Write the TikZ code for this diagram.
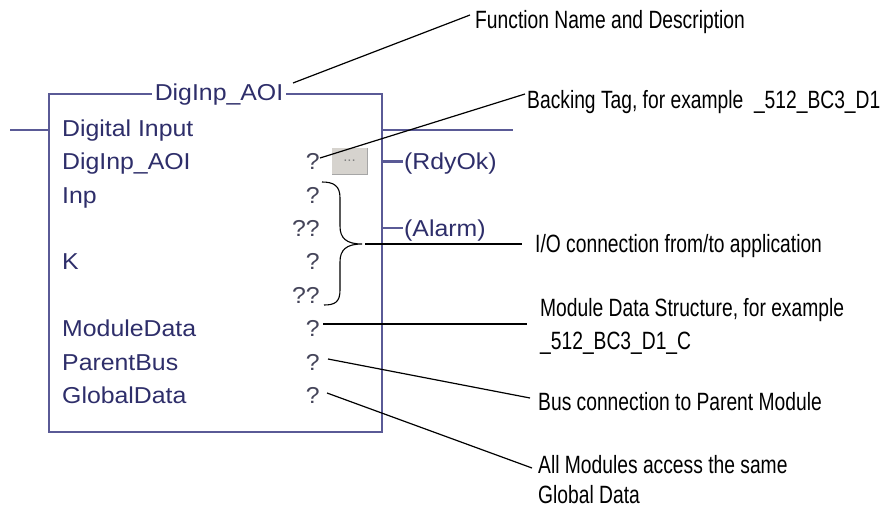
\documentclass[tikz,border=0pt]{standalone}
\usepackage{fontspec}
\setmainfont{Liberation Sans}
\newfontfamily\annfont{Liberation Sans}[FakeStretch=0.77]
\newfontfamily\boxfont{Liberation Sans}[FakeStretch=1.08]
\definecolor{boxline}{HTML}{5A5A96}
\definecolor{boxtext}{HTML}{2E2E6A}
\definecolor{qmark}{HTML}{45455A}
\definecolor{btnfill}{HTML}{D6D3CE}
\begin{document}
\begin{tikzpicture}[x=1pt,y=-1pt,
  ann/.style={font=\annfont\fontsize{25}{29}\selectfont, anchor=base west, inner sep=0pt, text=black},
  boxtxt/.style={font=\boxfont\fontsize{23}{27}\selectfont, anchor=base west, inner sep=0pt, text=boxtext},
  qm/.style={font=\boxfont\fontsize{23}{27}\selectfont, anchor=base east, inner sep=0pt, text=qmark},
  wire/.style={draw=boxline, line width=2.2pt},
  leader/.style={draw=black, line width=1.2pt},
  hleader/.style={draw=black, line width=2pt}
]
\useasboundingbox (0,0) rectangle (893,508);
\fill[white] (0,0) rectangle (893,508);

% function block
\draw[wire] (49,94) rectangle (382,432);
\node[font=\boxfont\fontsize{23}{27}\selectfont, text=boxtext, fill=white, inner xsep=3pt, inner ysep=2pt] (title) at (219,95) {DigInp\_AOI};
\coordinate (ltw) at (10,130);
\coordinate (boxl) at (49,130);
\coordinate (boxr) at (382,130);
\coordinate (rtw) at (513,130);
\draw[wire] (ltw) -- (boxl);
\draw[wire] (boxr) -- (rtw);

% rows
\node[boxtxt] (r0) at (62,136.3) {Digital Input};
\node[boxtxt] (r1) at (62,169.7) {DigInp\_AOI};
\node[boxtxt] (r2) at (62,203.1) {Inp};
\node[boxtxt] (r4) at (62,269.9) {K};
\node[boxtxt] (r6) at (62,336.7) {ModuleData};
\node[boxtxt] (r7) at (62,370.1) {ParentBus};
\node[boxtxt] (r8) at (62,403.5) {GlobalData};

\node[qm] (q1) at (320,169.7) {?};
\node[qm] (q2) at (320,203.1) {?};
\node[qm] (q3) at (320,236.5) {??};
\node[qm] (q4) at (320,269.9) {?};
\node[qm] (q5) at (320,303.3) {??};
\node[qm] (q6) at (320,336.7) {?};
\node[qm] (q7) at (320,370.1) {?};
\node[qm] (q8) at (320,403.5) {?};

% button
\node[draw=none, fill=btnfill, minimum width=35pt, minimum height=26pt, inner sep=0pt, font=\fontsize{15}{17}\selectfont, text=black!50] (btn) at (349.5,161) {...};
\draw[white, line width=1pt] (btn.south west) -- (btn.north west) -- (btn.north east);
\draw[black!35, line width=1pt] (btn.north east) -- (btn.south east) -- (btn.south west);

% outputs
\coordinate (o1a) at (382,161.4);
\coordinate (o1b) at (403,161.4);
\draw[wire] (o1a) -- (o1b);
\node[boxtxt, anchor=base west] (rdy) at (404,169.7) {(RdyOk)};
\coordinate (o2a) at (382,228.2);
\coordinate (o2b) at (403,228.2);
\draw[wire] (o2a) -- (o2b);
\node[boxtxt, anchor=base west] (alarm) at (404,236.5) {(Alarm)};

% brace
\coordinate (bt) at (322,182);
\coordinate (btip) at (362,244);
\coordinate (bb) at (324,305);
\draw[black, line width=1.1pt] (bt) .. controls (334,182) and (340,186) .. (340,198) -- (340,226)
  .. controls (340,238) and (346,244) .. (btip)
  .. controls (346,244) and (340,250) .. (340,262) -- (340,290)
  .. controls (340,302) and (335,305) .. (bb);

% annotations
\node[ann] (fn) at (475,28.5) {Function Name and Description};
\node[ann] (bk) at (527,108.5) {Backing Tag, for example \ \_512\_BC3\_D1};
\node[ann] (io) at (535,252.5) {I/O connection from/to application};
\node[ann] (md1) at (540,316) {Module Data Structure, for example};
\node[ann] (md2) at (540,349) {\_512\_BC3\_D1\_C};
\node[ann] (pb) at (538,410) {Bus connection to Parent Module};
\node[ann] (gd1) at (538,473) {All Modules access the same};
\node[ann] (gd2) at (538,503) {Global Data};

% leaders
\coordinate (fnS) at (293,83);
\coordinate (fnE) at (470,15);
\draw[leader] (fnS) -- (fnE);
\coordinate (bkS) at (320,158);
\coordinate (bkE) at (525,94);
\draw[leader] (bkS) -- (bkE);
\coordinate (ioS) at (365,244);
\coordinate (ioE) at (522,244);
\draw[hleader] (ioS) -- (ioE);
\coordinate (mdS) at (323,324);
\coordinate (mdE) at (527,324);
\draw[hleader] (mdS) -- (mdE);
\coordinate (pbS) at (328,359);
\coordinate (pbE) at (530,398);
\draw[leader] (pbS) -- (pbE);
\coordinate (gdS) at (327,393);
\coordinate (gdE) at (532,468);
\draw[leader] (gdS) -- (gdE);
\end{tikzpicture}
\end{document}
